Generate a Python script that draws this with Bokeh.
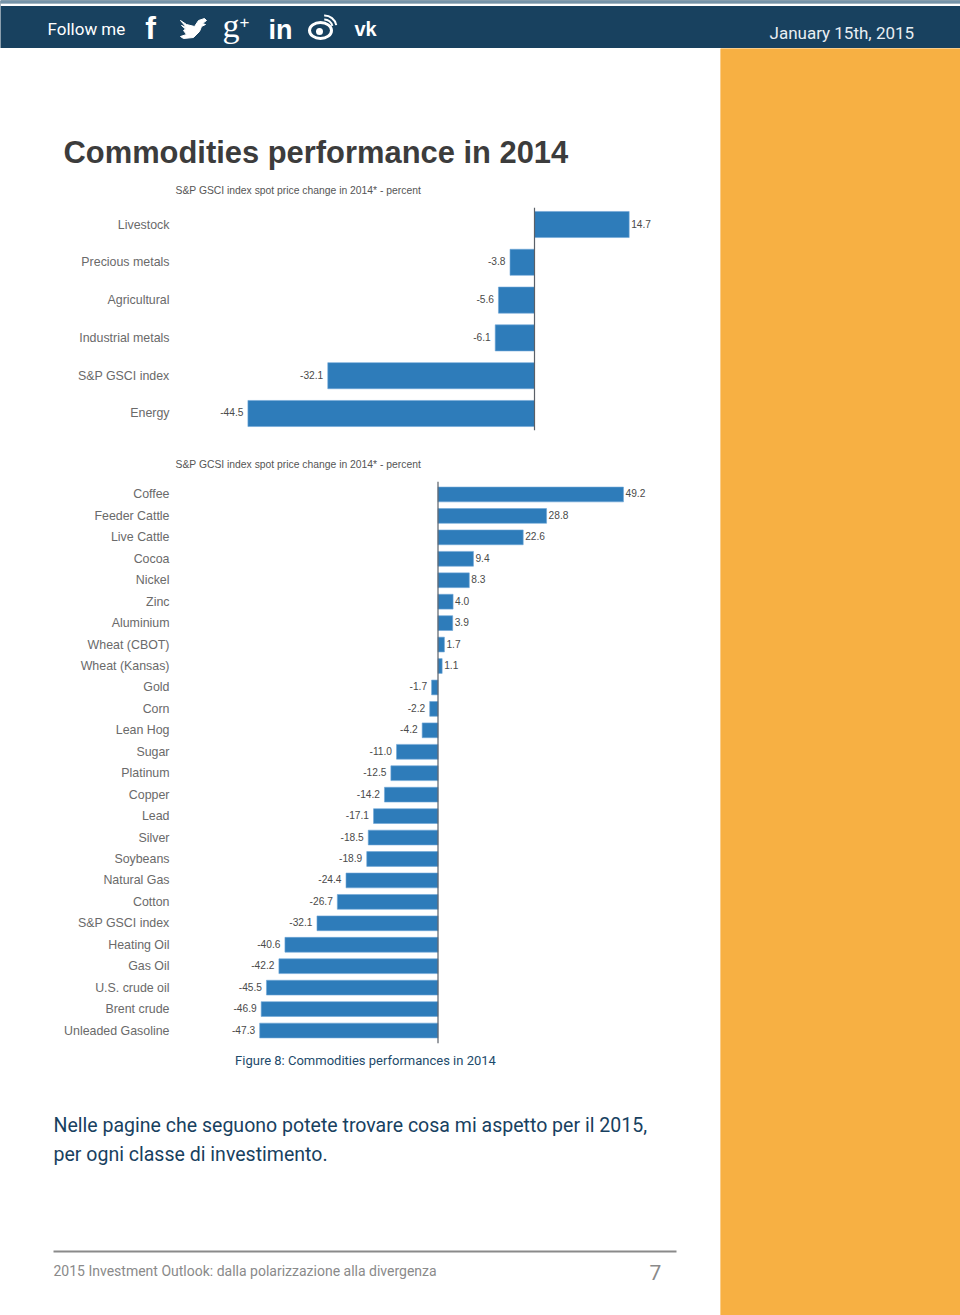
from bokeh.plotting import figure
from bokeh.layouts import column, row
from bokeh.models import FactorRange, Range1d, Span, ColumnDataSource
from bokeh.core.properties import value
from bokeh.embed import file_html
from bokeh.resources import INLINE

sector_names = ["Livestock", "Precious metals", "Agricultural", "Industrial metals", "S&P GSCI index", "Energy"]
sector_values = [14.7, -3.8, -5.6, -6.1, -32.1, -44.5]

commodity_names = ["Coffee", "Feeder Cattle", "Live Cattle", "Cocoa", "Nickel", "Zinc", "Aluminium",
                   "Wheat (CBOT)", "Wheat (Kansas)", "Gold", "Corn", "Lean Hog", "Sugar", "Platinum",
                   "Copper", "Lead", "Silver", "Soybeans", "Natural Gas", "Cotton", "S&P GSCI index",
                   "Heating Oil", "Gas Oil", "U.S. crude oil", "Brent crude", "Unleaded Gasoline"]
commodity_values = [49.2, 28.8, 22.6, 9.4, 8.3, 4.0, 3.9, 1.7, 1.1, -1.7, -2.2, -4.2, -11.0, -12.5,
                    -14.2, -17.1, -18.5, -18.9, -24.4, -26.7, -32.1, -40.6, -42.2, -45.5, -46.9, -47.3]

NAVY = "#18415f"
ORANGE = "#f7b043"
BLUE = "#2e7cba"


def canvas(w, x0, x1, y0, y1, bg="#ffffff"):
    f = figure(width=w, height=y1 - y0, x_range=Range1d(x0, x1), y_range=Range1d(y1, y0),
               output_backend="svg", toolbar_location=None, min_border=0,
               background_fill_color=bg, border_fill_color=bg, outline_line_color=None)
    f.axis.visible = False
    f.grid.visible = False
    return f


def label(f, x, y, s, size, color, font="Roboto", style="normal", align="left"):
    f.text([x], [y], text=[s], text_font=value(font), text_font_size=size, text_color=color,
           text_font_style=style, text_align=align, text_baseline="middle")


def bars(names, values, subtitle, left, right, scale, zero, top_pad, pad, height, bar_h):
    f = figure(width=720, height=height, y_range=FactorRange(factors=list(reversed(names)),
               range_padding=pad, range_padding_units="absolute"),
               x_range=Range1d((left - zero) / scale, (right - zero) / scale),
               output_backend="svg", toolbar_location=None,
               min_border_left=left, min_border_right=720 - right,
               min_border_top=top_pad, min_border_bottom=height - top_pad - bar_h,
               outline_line_color=None, border_fill_color="#ffffff")
    src = ColumnDataSource(dict(
        y=names, v=values, zero=[0] * len(values), t=[f"{v:.1f}" for v in values],
        align=["left" if v > 0 else "right" for v in values],
        off=[2 if v > 0 else -4.5 for v in values]))
    f.hbar(y="y", left="zero", right="v", height=0.69, source=src, fill_color=BLUE,
           line_color="#6ea6d6", line_width=0.6)
    f.text(x="v", y="y", text="t", x_offset="off", y_offset=-1, text_align="align", text_baseline="middle",
           source=src, text_font=value("Liberation Sans"), text_font_size="10.2px", text_color="#4a4a4a")
    f.add_layout(Span(location=0, dimension="height", line_color="#5a6068", line_width=1.2))
    f.xaxis.visible = False
    f.xgrid.visible = False
    f.ygrid.visible = False
    ax = f.yaxis[0]
    ax.axis_line_color = None
    ax.major_tick_line_color = None
    ax.minor_tick_line_color = None
    ax.major_label_standoff = 0
    ax.major_label_text_font = "Liberation Sans"
    ax.major_label_text_font_size = "12.4px"
    ax.major_label_text_color = "#6a6a6a"
    f.title.text = subtitle
    f.title.align = "left"
    f.title.standoff = 23
    f.title.text_font = "Liberation Sans"
    f.title.text_font_style = "normal"
    f.title.text_font_size = "10.35px"
    f.title.text_color = "#555555"
    return f


# header band
head = canvas(960, 0, 960, 0, 48, NAVY)
head.quad(left=[0, 0], right=[960, 960], top=[0, 3], bottom=[3, 5.5], fill_color=["#7593a8", "#ffffff"], line_color=None)
label(head, 47, 28, "Follow me", "17px", "#ffffff")
label(head, 769, 32, "January 15th, 2015", "17px", "#e8eef2")
label(head, 150, 27, "f", "32px", "#ffffff", "Liberation Sans", "bold", "center")
head.patch([180, 186, 194, 198, 204, 206, 202, 205, 201, 199, 193, 183, 180, 186, 183, 185, 181, 186],
           [20, 24, 26, 20, 18, 20, 23, 24, 26, 31, 37, 38, 36, 34, 30, 28.5, 25, 27],
           fill_color="#ffffff", line_color="#ffffff")
label(head, 222, 25, "g", "34px", "#ffffff", "Liberation Serif")
label(head, 239, 21, "+", "17px", "#ffffff", "Liberation Sans")
label(head, 268, 29, "in", "27px", "#ffffff", "Liberation Sans", "bold")
head.ellipse([320], [30], width=22, height=16, fill_color=None, line_color="#ffffff", line_width=3)
head.ellipse([319], [31], width=7, height=7, fill_color="#ffffff", line_color=None)
head.arc([324], [27], radius=8, start_angle=0.2, end_angle=1.6, line_color="#ffffff", line_width=2)
head.arc([324], [27], radius=12, start_angle=0.2, end_angle=1.6, line_color="#ffffff", line_width=2)
label(head, 365, 28, "vk", "20px", "#ffffff", "Liberation Sans", "bold", "center")

# heading above the charts
top = canvas(720, 0, 720, 48, 170)
label(top, 63, 152, "Commodities performance in 2014", "30.9px", "#3c3c3c", "Liberation Sans", "bold")

chart1 = bars(sector_names, sector_values, "S&P GSCI index spot price change in 2014* - percent",
              175, 660, 6.44, 534, 37, -0.05, 275, 223)
chart2 = bars(commodity_names, commodity_values, "S&P GCSI index spot price change in 2014* - percent",
              175, 660, 3.77, 437.5, 36, 0.105, 605, 562)

# caption, text and footer
foot = canvas(720, 0, 720, 1050, 1315)
label(foot, 365, 1060, "Figure 8: Commodities performances in 2014", "13px", "#1d4a6b", "Roboto", align="center")
label(foot, 53, 1125, "Nelle pagine che seguono potete trovare cosa mi aspetto per il 2015,", "19.55px", NAVY)
label(foot, 53, 1154, "per ogni classe di investimento.", "19.55px", NAVY)
foot.segment([53], [1251], [676], [1251], line_color="#8a8a8a", line_width=2)
label(foot, 53, 1270, "2015 Investment Outlook: dalla polarizzazione alla divergenza", "14px", "#8a8a8a")
label(foot, 649, 1272, "7", "21px", "#8a8a8a", "Roboto")

side = canvas(240, 720, 960, 48, 1315, ORANGE)
side.quad(left=[720], right=[960], top=[48], bottom=[1315], fill_color=ORANGE, line_color=None)

left = column(row(top), row(chart1), row(chart2), row(foot), spacing=0)
page = column(head, row(left, side, spacing=0), spacing=0)

open("out.html", "w").write(file_html(page, INLINE))
